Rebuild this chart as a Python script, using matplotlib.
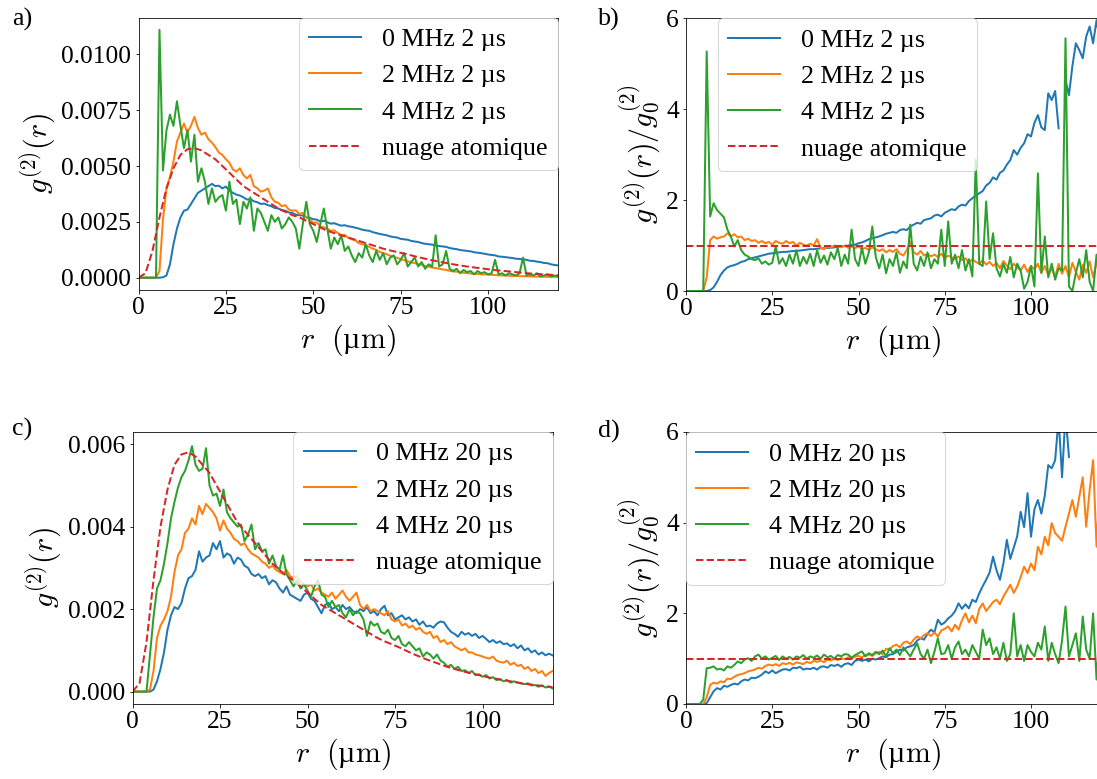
import numpy as np
import matplotlib
matplotlib.use('Agg')
import matplotlib.pyplot as plt

nan = np.nan

# radial distance grid (µm), 1 µm steps
r = np.arange(0, 121)
# grid for the smooth atomic cloud profile (µm)
r_cloud = np.arange(0, 121, 2)

# atomic cloud profile g2(r), in units of 1e-3
cloud_1e3 = [0.0, 0.2, 1.2, 2.7, 4.0, 4.9, 5.5, 5.75, 5.8, 5.7,
             5.5, 5.3, 5.0, 4.7, 4.4, 4.1, 3.9, 3.7, 3.5, 3.3,
             3.1, 2.95, 2.8, 2.7, 2.55, 2.4, 2.25, 2.1, 2.0, 1.9,
             1.8, 1.7, 1.6, 1.5, 1.4, 1.3, 1.22, 1.15, 1.08, 1.0,
             0.92, 0.85, 0.78, 0.72, 0.66, 0.6, 0.55, 0.5, 0.46, 0.42,
             0.38, 0.34, 0.31, 0.28, 0.25, 0.22, 0.19, 0.17, 0.15, 0.13,
             0.11]
cloud_ratio = 1.0

# panel a: g2(r), 2 µs, units of 1e-3
a_0mhz = [0, 0, 0, 0, 0, 0, 0, 0.02, 0.1, 0.6,
          1.5, 2.2, 2.7, 3.0, 3.05, 3.3, 3.55, 3.8, 3.9, 4.0,
          4.1, 4.2, 4.1, 4.12, 4.0, 4.08, 3.9, 3.8, 3.72, 3.68,
          3.6, 3.5, 3.52, 3.42, 3.38, 3.3, 3.32, 3.25, 3.2, 3.12,
          3.1, 3.02, 3.0, 2.92, 2.9, 2.82, 2.8, 2.78, 2.7, 2.68,
          2.62, 2.6, 2.52, 2.55, 2.48, 2.42, 2.44, 2.38, 2.33, 2.35,
          2.3, 2.28, 2.24, 2.2, 2.15, 2.12, 2.1, 2.04, 2.0, 1.96,
          1.93, 1.9, 1.85, 1.82, 1.8, 1.74, 1.72, 1.7, 1.65, 1.62,
          1.6, 1.55, 1.52, 1.5, 1.48, 1.44, 1.42, 1.4, 1.38, 1.33,
          1.3, 1.28, 1.24, 1.22, 1.2, 1.18, 1.14, 1.12, 1.1, 1.07,
          1.04, 1.02, 1.0, 0.95, 0.94, 0.92, 0.9, 0.88, 0.85, 0.84,
          0.82, 0.8, 0.76, 0.75, 0.72, 0.7, 0.66, 0.65, 0.6, 0.57,
          0.55]
a_2mhz = [0, 0, 0, 0, 0, 0, 0.3, 2.6, 4.0, 4.5,
          5.2, 6.1, 6.5, 6.9, 6.5, 6.8, 7.2, 6.7, 6.4, 6.5,
          6.2, 6.05, 5.85, 5.6, 5.5, 5.3, 5.15, 4.85, 4.75, 4.9,
          4.6, 4.45, 4.6, 4.1, 4.0, 3.85, 3.9, 4.0, 3.6, 3.4,
          3.35, 3.2, 3.25, 3.05, 3.0, 3.02, 2.85, 2.9, 2.7, 2.62,
          2.45, 2.48, 2.3, 2.25, 2.2, 2.1, 2.12, 2.0, 1.9, 1.92,
          1.78, 1.72, 1.68, 1.55, 1.5, 1.45, 1.38, 1.3, 1.25, 1.15,
          1.1, 1.05, 0.98, 0.95, 0.88, 0.84, 0.78, 0.74, 0.68, 0.66,
          0.6, 0.58, 0.52, 0.5, 0.45, 0.44, 0.4, 0.37, 0.35, 0.31,
          0.28, 0.27, 0.25, 0.22, 0.21, 0.19, 0.17, 0.17, 0.15, 0.15,
          0.14, 0.13, 0.12, 0.11, 0.1, 0.1, 0.09, 0.08, 0.08, 0.07,
          0.07, 0.06, 0.06, 0.05, 0.05, 0.05, 0.04, 0.04, 0.04, 0.04,
          0.04]
a_4mhz = [0, 0, 0, 0, 0, 0, 11.1, 4.8, 6.6, 7.3,
          6.8, 7.9, 6.8, 5.8, 6.6, 5.2, 6.4, 4.3, 4.9, 4.3,
          3.3, 4.0, 3.4, 3.6, 3.7, 3.0, 4.3, 3.3, 3.5, 2.4,
          3.4, 3.1, 3.6, 2.1, 3.1, 2.9, 2.5, 2.1, 2.8, 2.5,
          2.7, 2.2, 2.4, 2.7, 2.5, 2.2, 1.3, 2.4, 3.4, 2.4,
          2.1, 1.6, 2.4, 3.1, 2.2, 1.3, 1.8, 1.5, 1.9, 1.2,
          1.4, 1.0, 0.7, 1.1, 0.9, 1.5, 1.0, 0.7, 1.2, 0.8,
          1.1, 0.6, 0.9, 1.0, 0.6, 0.8, 1.1, 0.5, 0.7, 0.9,
          0.5, 0.7, 0.4, 0.6, 0.5, 1.9, 0.5, 0.6, 1.2, 0.4,
          0.3, 0.4, 0.2, 0.35, 0.25, 0.3, 0.15, 0.3, 0.2, 0.25,
          0.15, 0.2, 0.8, 0.15, 0.2, 0.1, 0.2, 0.15, 0.1, 0.2,
          0.9, 0.1, 0.15, 0.1, 0.2, 0.05, 0.1, 0.15, 0.05, 0.1,
          0.05]

# panel b: g2(r)/g2_0(r), 2 µs
b_0mhz = [0, 0, 0, 0, 0, 0, 0, 0.02, 0.08, 0.2,
          0.35, 0.45, 0.52, 0.55, 0.57, 0.6, 0.64, 0.66, 0.7, 0.72,
          0.74, 0.76, 0.78, 0.8, 0.82, 0.83, 0.84, 0.85, 0.86, 0.86,
          0.87, 0.88, 0.88, 0.89, 0.9, 0.91, 0.92, 0.92, 0.93, 0.94,
          0.94, 0.95, 0.95, 0.96, 0.97, 0.98, 0.99, 1.0, 1.01, 1.02,
          1.05, 1.07, 1.1, 1.14, 1.16, 1.18, 1.2, 1.23, 1.26, 1.28,
          1.3, 1.28, 1.34, 1.36, 1.34, 1.42, 1.46, 1.5, 1.48, 1.56,
          1.58, 1.6, 1.66, 1.68, 1.64, 1.72, 1.76, 1.8, 1.78, 1.86,
          1.9, 1.88, 1.98, 2.04, 2.1, 2.15, 2.2, 2.32, 2.38, 2.5,
          2.45, 2.6, 2.65, 2.78, 2.88, 3.1, 3.0, 3.15, 3.25, 3.45,
          3.4, 3.7, 3.87, 3.6, 3.54, 4.35, 4.2, 4.4, 3.58, nan,
          4.64, 4.31, 4.95, 5.45, 5.3, 5.12, 5.6, 5.82, 5.45, 5.96,
          5.5]
b_2mhz = [0, 0, 0, 0, 0, 0, 0.3, 1.12, 1.2, 1.15,
          1.18, 1.2, 1.27, 1.2, 1.25, 1.18, 1.2, 1.12, 1.15, 1.1,
          1.12, 1.06, 1.1, 1.05, 1.08, 1.02, 1.1, 1.06, 1.04, 1.1,
          1.05, 1.08, 1.0, 1.06, 1.02, 1.0, 1.04, 1.0, 1.14, 0.95,
          0.92, 0.98, 0.95, 1.0, 0.98, 0.96, 1.0, 0.95, 0.98, 0.94,
          0.98, 0.92, 0.95, 0.9, 0.96, 0.92, 0.88, 0.92, 0.85, 0.9,
          0.86, 0.92, 0.82, 0.78, 0.9, 1.09, 0.85, 0.8, 0.88, 0.78,
          0.82, 0.76, 0.8, 0.75, 0.82, 0.72, 0.78, 0.74, 0.7, 0.76,
          0.68, 0.72, 0.62, 0.7, 0.64, 0.6, 0.68, 0.58, 0.64, 0.55,
          0.62, 0.5, 0.66, 0.56, 0.48, 0.6, 0.52, 0.45, 0.58, 0.42,
          0.55, 0.48, 0.6, 0.4, 0.55, 0.35, 0.5, 0.3, 0.6, 0.38,
          0.55, 0.3, 0.62, 0.42, 0.25, 0.58, 0.4, 0.65, 0.3, 0.62,
          0.5]
b_4mhz = [0, 0, 0, 0, 0, 0, 5.27, 1.64, 1.93, 1.78,
          1.7, 1.62, 1.35, 1.2, 0.98, 1.12, 0.9, 0.8, 0.76, 0.7,
          0.68, 0.72, 0.6, 0.65, 0.58, 0.62, 0.98, 0.6, 0.72, 0.55,
          0.8, 0.6, 0.9, 0.55, 0.75, 0.6, 0.82, 0.55, 0.9, 0.62,
          0.78, 0.58, 0.85, 0.7, 0.95, 0.55, 0.8, 0.6, 1.35, 0.7,
          0.55, 0.95, 0.6, 0.85, 1.42, 0.75, 0.5, 0.8, 0.39, 0.7,
          0.55, 0.85, 0.4, 0.65, 0.5, 1.46, 0.6, 0.45, 0.75, 0.55,
          0.85, 0.5, 0.7, 0.6, 1.35, 0.55, 1.53, 0.6, 0.8, 0.5,
          0.9, 0.45, 0.7, 0.32, 2.89, 0.6, 0.55, 1.97, 0.7, 1.27,
          0.5, 0.32, 0.6, 0.4, 0.75, 0.3, 0.6, 0.45, 0.05, 0.2,
          0.55, 0.1, 2.59, 0.4, 1.2, 0.3, 0.6, 0.25, 0.5, 0.45,
          5.56, 0.1, 0.0, 0.4, 0.7, 0.3, 0.9, 0.2, 0.0, 0.8,
          0.35]

# panel c: g2(r), 20 µs, units of 1e-3
c_0mhz = [0, 0, 0, 0, 0, 0, 0.05, 0.25, 0.55, 0.95,
          1.5, 1.85, 2.05, 2.0, 2.15, 2.5, 2.75, 2.8, 2.95, 3.4,
          3.15, 3.25, 3.3, 3.6, 3.45, 3.65, 3.25, 3.35, 3.3, 3.1,
          3.25, 3.2, 3.05, 3.0, 2.85, 2.8, 2.85, 2.75, 2.8, 2.6,
          2.7, 2.65, 2.5, 2.4, 2.55, 2.35, 2.3, 2.25, 2.2, 2.35,
          2.4, 2.25, 2.2, 2.05, 1.9, 2.1, 2.15, 2.0, 2.05, 1.95,
          2.1, 2.0, 2.05, 1.95, 1.9, 2.0, 1.95, 2.05, 1.9, 1.95,
          1.85, 2.0, 2.08, 1.85, 1.9, 1.75, 1.8, 1.85, 1.75, 1.8,
          1.7, 1.75, 1.62, 1.7, 1.58, 1.6, 1.55, 1.65, 1.7, 1.68,
          1.55, 1.45, 1.4, 1.33, 1.45, 1.38, 1.42, 1.35, 1.4, 1.3,
          1.35, 1.28, 1.2, 1.25, 1.18, 1.22, 1.15, 1.17, 1.1, 1.15,
          1.05, 1.12, 1.0, 1.05, 0.95, 1.0, 0.9, 0.95, 0.88, 0.92,
          0.88]
c_2mhz = [0, 0, 0, 0, 0, 0.05, 0.5, 1.3, 1.6, 1.75,
          1.95, 2.3, 2.9, 3.3, 3.45, 3.85, 3.95, 4.2, 4.05, 4.5,
          4.3, 4.55, 4.45, 4.35, 4.2, 3.9, 4.15, 3.95, 3.85, 3.7,
          3.65, 3.55, 3.6, 3.45, 3.35, 3.3, 3.25, 3.15, 3.1, 3.0,
          3.05, 2.95, 2.9, 2.85, 2.95, 2.8, 2.75, 2.8, 2.65, 2.6,
          2.55, 2.6, 2.45, 2.5, 2.4, 2.35, 2.3, 2.4, 2.25, 2.35,
          2.45, 2.3, 2.2, 2.3, 2.4, 2.1, 2.0, 2.1, 1.95, 2.0,
          1.95, 1.9, 1.85, 1.95, 1.75, 1.7, 1.75, 1.6, 1.65, 1.55,
          1.6, 1.5, 1.55, 1.45, 1.4, 1.45, 1.3, 1.35, 1.2, 1.25,
          1.15, 1.2, 1.1, 1.05, 1.0, 1.05, 0.95, 0.95, 0.9, 0.88,
          0.85, 0.82, 0.8, 0.85, 0.75, 0.72, 0.7, 0.75, 0.65, 0.7,
          0.62, 0.65, 0.55, 0.6, 0.5, 0.55, 0.45, 0.5, 0.38, 0.45,
          0.5]
c_4mhz = [0, 0, 0, 0, 0, 0.9, 1.8, 2.5, 2.7, 3.1,
          3.6, 4.2, 4.6, 4.95, 5.2, 5.35, 5.6, 5.95, 5.5, 5.35,
          5.4, 5.9, 5.0, 4.75, 4.8, 4.5, 4.9, 4.35, 4.2, 4.1,
          4.0, 4.05, 3.65, 3.8, 4.05, 3.45, 3.6, 3.4, 3.45, 3.1,
          3.3, 3.05, 2.95, 3.3, 2.85, 2.7, 2.55, 2.7, 2.5, 2.6,
          2.45, 2.3, 2.55, 2.7, 2.35, 2.3, 2.05, 2.2, 2.05, 2.1,
          1.9, 1.8, 2.0, 1.85, 1.95, 1.9, 1.75, 1.35, 1.7, 1.6,
          1.65, 1.45, 1.4, 1.5, 1.3, 1.25, 1.35, 1.15, 1.1, 1.2,
          1.1, 1.0, 1.05, 0.85, 0.95, 0.9, 0.8, 0.9, 0.75, 0.7,
          0.6, 0.65, 0.55, 0.6, 0.5, 0.52, 0.45, 0.5, 0.4, 0.42,
          0.36, 0.4, 0.32, 0.35, 0.28, 0.3, 0.25, 0.28, 0.22, 0.25,
          0.22, 0.2, 0.18, 0.2, 0.15, 0.16, 0.12, 0.15, 0.1, 0.12,
          0.08]

# panel d: g2(r)/g2_0(r), 20 µs
d_0mhz = [0, 0, 0, 0, 0, 0, 0.02, 0.15, 0.28, 0.35,
          0.32, 0.4, 0.38, 0.42, 0.45, 0.43, 0.5, 0.54, 0.52, 0.58,
          0.57, 0.6, 0.65, 0.72, 0.68, 0.74, 0.68, 0.72, 0.76, 0.77,
          0.74, 0.8, 0.79, 0.82, 0.76, 0.78, 0.77, 0.8, 0.76, 0.82,
          0.83, 0.8, 0.86, 0.84, 0.87, 0.82, 0.88, 0.9, 0.86, 0.95,
          0.98, 0.95, 0.98, 0.94, 1.0, 0.98, 1.01, 1.05, 1.03, 1.09,
          1.1, 1.15, 1.2, 1.18, 1.25, 1.27, 1.3, 1.4, 1.45, 1.42,
          1.55, 1.64, 1.58, 1.86, 1.75, 1.8, 1.89, 1.95, 2.05, 2.22,
          2.1, 2.2, 2.11, 2.3, 2.25, 2.44, 2.6, 2.74, 2.9, 3.25,
          2.95, 2.74, 3.1, 3.62, 3.2, 3.45, 3.7, 4.24, 3.9, 4.65,
          3.69, 4.3, 4.5, 4.2, 4.6, 5.27, 5.2, 5.38, 6.3, 5.0,
          6.4, 5.45, nan, nan, nan, nan, nan, nan, nan, nan,
          nan]
d_2mhz = [0, 0, 0, 0, 0, 0, 0.15, 0.42, 0.47, 0.45,
          0.5, 0.48, 0.56, 0.55, 0.6, 0.64, 0.66, 0.68, 0.72, 0.74,
          0.76, 0.8, 0.78, 0.84, 0.87, 0.85, 0.88, 0.84, 0.9, 0.88,
          0.91, 0.87, 0.92, 0.9, 0.88, 0.93, 0.9, 0.95, 0.93, 0.96,
          0.92, 0.98, 0.96, 1.0, 0.97, 1.01, 0.99, 1.03, 1.0, 1.05,
          1.06, 1.03, 1.08, 1.09, 1.06, 1.12, 1.15, 1.1, 1.22, 1.2,
          1.28, 1.31, 1.25, 1.35, 1.38, 1.32, 1.42, 1.49, 1.45, 1.52,
          1.56, 1.5, 1.58, 1.49, 1.62, 1.66, 1.71, 1.6, 1.75, 1.64,
          1.85, 2.0, 1.8, 1.95, 1.78, 2.1, 2.22, 2.05, 2.15, 2.25,
          2.3, 2.2, 2.37, 2.5, 2.63, 2.45, 2.59, 2.8, 3.03, 2.89,
          3.1, 2.95, 3.47, 3.3, 3.69, 3.5, 3.99, 3.77, 3.69, 3.6,
          3.91, 4.2, 4.5, 4.13, 4.57, 5.0, 3.91, 4.72, 5.38, 3.47,
          4.9]
d_4mhz = [0, 0, 0, 0, 0, 0.1, 0.79, 0.8, 0.83, 0.76,
          0.78, 0.74, 0.83, 0.8, 0.86, 0.94, 0.9, 0.98, 1.01, 0.95,
          1.05, 1.09, 1.0, 1.05, 0.98, 1.02, 1.06, 0.97, 1.05, 1.0,
          1.04, 0.98, 1.05, 1.02, 1.08, 1.0, 1.05, 1.02, 1.07, 1.0,
          1.09, 1.03, 1.06, 1.0, 1.08, 1.05, 1.1, 1.09, 1.02, 1.08,
          1.12, 1.16, 1.05, 1.12, 1.08, 1.15, 1.1, 1.18, 1.05, 1.23,
          1.12, 1.2, 1.08, 1.25, 1.15, 1.05, 1.2, 1.34, 1.1, 1.0,
          1.2, 0.9, 1.15, 1.45, 1.1, 1.12, 1.3, 1.0, 1.25, 1.38,
          1.1, 1.2, 1.05, 1.3, 1.15, 1.0, 1.64, 1.3, 1.45, 1.1,
          1.25, 1.0, 1.35, 0.95, 1.1, 2.0, 1.05, 1.3, 0.95, 1.3,
          1.15, 1.05, 1.35, 1.2, 1.71, 0.95, 1.35, 1.1, 0.9, 1.4,
          2.15, 1.05, 1.3, 1.56, 0.95, 1.93, 1.2, 1.0, 2.0, 0.54,
          1.6]

freqs = ['0 MHz', '2 MHz', '4 MHz']
colors = ['tab:blue', 'tab:orange', 'tab:green']
cloud_label = 'nuage atomique'

plt.rcParams['font.family'] = 'serif'
plt.rcParams['font.serif'] = ['Liberation Serif']
plt.rcParams['mathtext.fontset'] = 'cm'

DPI = 72
W, H = 1097, 779
fig = plt.figure(figsize=(W / DPI, H / DPI), dpi=DPI)


def px_axes(left, right, top, bottom):
    return fig.add_axes([left / W, 1 - bottom / H, (right - left) / W, (bottom - top) / H])


ax_a = px_axes(138.5, 558, 17.5, 290)
ax_b = px_axes(686, 1100, 18.3, 291)
ax_c = px_axes(132.5, 552.5, 431.7, 704)
ax_d = px_axes(686, 1100, 432, 704)

tick_fs = 25.5
leg_fs = 26
lab_fs = 30
lw = 2

# g2 panels
for ax, series, dur in [(ax_a, [a_0mhz, a_2mhz, a_4mhz], '2 µs'),
                        (ax_c, [c_0mhz, c_2mhz, c_4mhz], '20 µs')]:
    for vals, f, col in zip(series, freqs, colors):
        ax.plot(r, np.array(vals) * 1e-3, color=col, lw=lw, label=f + ' ' + dur)
    ax.plot(r_cloud, np.array(cloud_1e3) * 1e-3, '--', color='tab:red', lw=lw, label=cloud_label)
    ax.set_ylabel(r'$g^{(2)}(r)$', fontsize=lab_fs)

ax_a.set_ylim(-0.00055, 0.01165)
ax_a.set_yticks([0, 0.0025, 0.005, 0.0075, 0.01])
ax_c.set_ylim(-0.0003, 0.0063)
ax_c.set_yticks([0, 0.002, 0.004, 0.006])

# normalised panels
for ax, series, dur in [(ax_b, [b_0mhz, b_2mhz, b_4mhz], '2 µs'),
                        (ax_d, [d_0mhz, d_2mhz, d_4mhz], '20 µs')]:
    for vals, f, col in zip(series, freqs, colors):
        ax.plot(r, vals, color=col, lw=lw, label=f + ' ' + dur)
    ax.axhline(cloud_ratio, ls='--', color='tab:red', lw=lw, label=cloud_label)
    ax.set_ylim(0, 6)
    ax.set_yticks([0, 2, 4, 6])
    ax.set_ylabel(r'$g^{(2)}(r)/g_0^{(2)}$', fontsize=lab_fs)

for ax in [ax_a, ax_b, ax_c, ax_d]:
    ax.set_xlim(0, 120)
    ax.set_xticks([0, 25, 50, 75, 100])
    ax.set_xlabel(r'$r\ \ ($µ$\mathrm{m})$', fontsize=lab_fs)
    ax.tick_params(labelsize=tick_fs)

ax_a.legend(loc='upper right', borderaxespad=0, fontsize=leg_fs)
ax_b.legend(loc='upper left', bbox_to_anchor=(0.077, 1), borderaxespad=0, fontsize=leg_fs)
ax_c.legend(loc='upper right', borderaxespad=0, fontsize=leg_fs)
ax_d.legend(loc='upper left', borderaxespad=0, fontsize=leg_fs)

fig.text(12 / W, 1 - 8 / H, 'a)', fontsize=26, va='top')
fig.text(598 / W, 1 - 8 / H, 'b)', fontsize=26, va='top')
fig.text(12 / W, 1 - 418 / H, 'c)', fontsize=26, va='top')
fig.text(598 / W, 1 - 420 / H, 'd)', fontsize=26, va='top')

fig.savefig('out.png', dpi=DPI)
